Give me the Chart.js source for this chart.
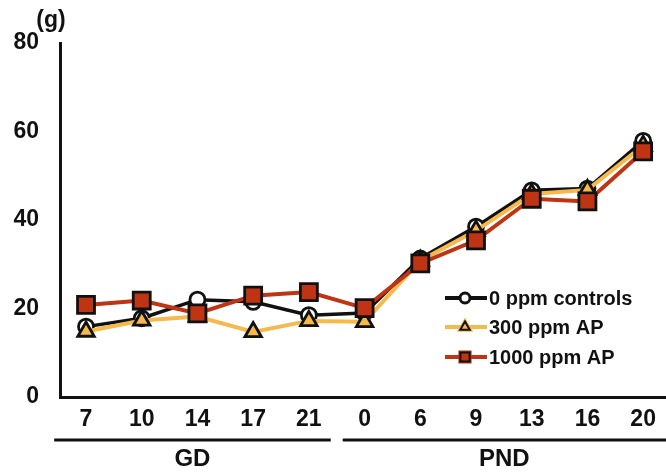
<!DOCTYPE html>
<html>
<head>
<meta charset="utf-8">
<script src="https://cdn.jsdelivr.net/npm/chart.js@4/dist/chart.umd.min.js"></script>
<style>
  html, body { margin: 0; padding: 0; background: #fff; }
  #wrap { width: 666px; height: 475px; position: relative; }
</style>
</head>
<body>
<div id="wrap"><canvas id="c" width="666" height="475"></canvas></div>
<script>
// Days of sampling: gestation days (GD) then postnatal days (PND)
const days = ['7', '10', '14', '17', '21', '0', '6', '9', '13', '16', '20'];
// Maternal body weight (g)
const controls = [15.9, 17.8, 22.0, 21.5, 18.5, 19.0, 31.3, 38.5, 46.7, 47.1, 57.9];
const ap300    = [14.8, 17.3, 18.2, 14.7, 17.2, 17.0, 30.8, 37.6, 45.9, 46.8, 56.8];
const ap1000   = [20.8, 21.8, 18.9, 22.9, 23.7, 20.1, 30.2, 35.4, 44.8, 44.2, 55.5];
const yTicks = [0, 20, 40, 60, 80];
const seriesNames = ['0 ppm controls', '300 ppm AP', '1000 ppm AP'];
const groupNames = ['GD', 'PND'];
const groupSpans = [[0, 4], [5, 10]];

const FONT = "'Liberation Sans', Arial, Helvetica, sans-serif";
const INK = '#111111';
const YELLOW = '#F6B94C';
const RED = '#BF3412';

const toPoints = arr => arr.map((v, i) => ({ x: i, y: v }));

const styles = [
  { line: INK,    fill: '#ffffff', shape: 'circle',   r: 7.5, lw: 3.5, order: 3 },
  { line: YELLOW, fill: YELLOW,    shape: 'triangle', r: 9.5, lw: 4,   order: 2 },
  { line: RED,    fill: RED,       shape: 'rect',     r: 12,  lw: 4,   order: 1 }
];
const seriesData = [controls, ap300, ap1000];

const datasets = seriesData.map((d, k) => ({
  label: seriesNames[k],
  data: toPoints(d),
  borderColor: styles[k].line,
  borderWidth: styles[k].lw,
  pointStyle: styles[k].shape,
  pointRadius: styles[k].r,
  pointBackgroundColor: styles[k].fill,
  pointBorderColor: INK,
  pointBorderWidth: 2.8,
  tension: 0,
  clip: false,
  order: styles[k].order
}));

// Unit label, day-group brackets and legend
const extras = {
  id: 'extras',
  afterDraw(chart) {
    const ctx = chart.ctx;
    const xs = chart.scales.x;
    ctx.save();
    ctx.fillStyle = INK;
    ctx.textAlign = 'center';
    ctx.textBaseline = 'middle';
    ctx.font = 'bold 23px ' + FONT;
    ctx.fillText('(g)', 51, 21);

    // group brackets under the day labels
    const step = xs.getPixelForValue(1) - xs.getPixelForValue(0);
    ctx.strokeStyle = INK;
    ctx.lineWidth = 3;
    groupSpans.forEach((span, g) => {
      const x0 = xs.getPixelForValue(span[0]) - step / 2 + (g === 0 ? -4 : 6);
      const x1 = g === groupSpans.length - 1 ? chart.width : xs.getPixelForValue(span[1]) + step / 2 - 6;
      ctx.beginPath();
      ctx.moveTo(x0, 440);
      ctx.lineTo(x1, 440);
      ctx.stroke();
      ctx.font = 'bold 24px ' + FONT;
      ctx.fillText(groupNames[g], (x0 + x1) / 2, 459);
    });

    // legend
    const rowsY = [298, 327, 357];
    ctx.textAlign = 'left';
    ctx.font = 'bold 20px ' + FONT;
    styles.forEach((s, k) => {
      const y = rowsY[k];
      ctx.strokeStyle = s.line;
      ctx.lineWidth = 4;
      ctx.beginPath();
      ctx.moveTo(445, y);
      ctx.lineTo(487, y);
      ctx.stroke();
      Chart.helpers.drawPoint(ctx, {
        pointStyle: s.shape,
        radius: s.shape === 'rect' ? 6.5 : (s.shape === 'triangle' ? 5.5 : 4.5),
        borderWidth: 2
      }, 465, y);
      ctx.fillStyle = s.fill;
      ctx.strokeStyle = INK;
      ctx.lineWidth = 2;
      ctx.fill();
      ctx.stroke();
      ctx.fillStyle = INK;
      ctx.fillText(seriesNames[k], 489, y + 1);
    });
    ctx.restore();
  }
};

new Chart(document.getElementById('c'), {
  type: 'line',
  data: { datasets },
  options: {
    responsive: false,
    animation: false,
    layout: { autoPadding: false, padding: { top: 43, left: 0, right: 0, bottom: 0 } },
    plugins: { legend: { display: false }, tooltip: { enabled: false } },
    scales: {
      x: {
        type: 'linear',
        min: -0.467,
        max: 10.41,
        grid: { display: false, drawTicks: false },
        border: { display: true, color: INK, width: 3 },
        afterBuildTicks: s => { s.ticks = days.map((d, i) => ({ value: i })); },
        afterFit: s => { s.height = 78; s.paddingLeft = 0; s.paddingRight = 0; },
        ticks: {
          autoSkip: false,
          maxRotation: 0,
          padding: 9,
          color: INK,
          font: { family: FONT, size: 23, weight: 'bold' },
          callback: v => days[v]
        }
      },
      y: {
        min: 0,
        max: 80,
        grid: { display: false, drawTicks: false },
        border: { display: true, color: INK, width: 3 },
        afterBuildTicks: s => { s.ticks = yTicks.map(v => ({ value: v })); },
        afterFit: s => { s.width = 60; s.paddingTop = 0; s.paddingBottom = 0; },
        ticks: {
          padding: 21,
          color: INK,
          font: { family: FONT, size: 23, weight: 'bold' }
        }
      }
    }
  },
  plugins: [extras]
});
</script>
</body>
</html>
